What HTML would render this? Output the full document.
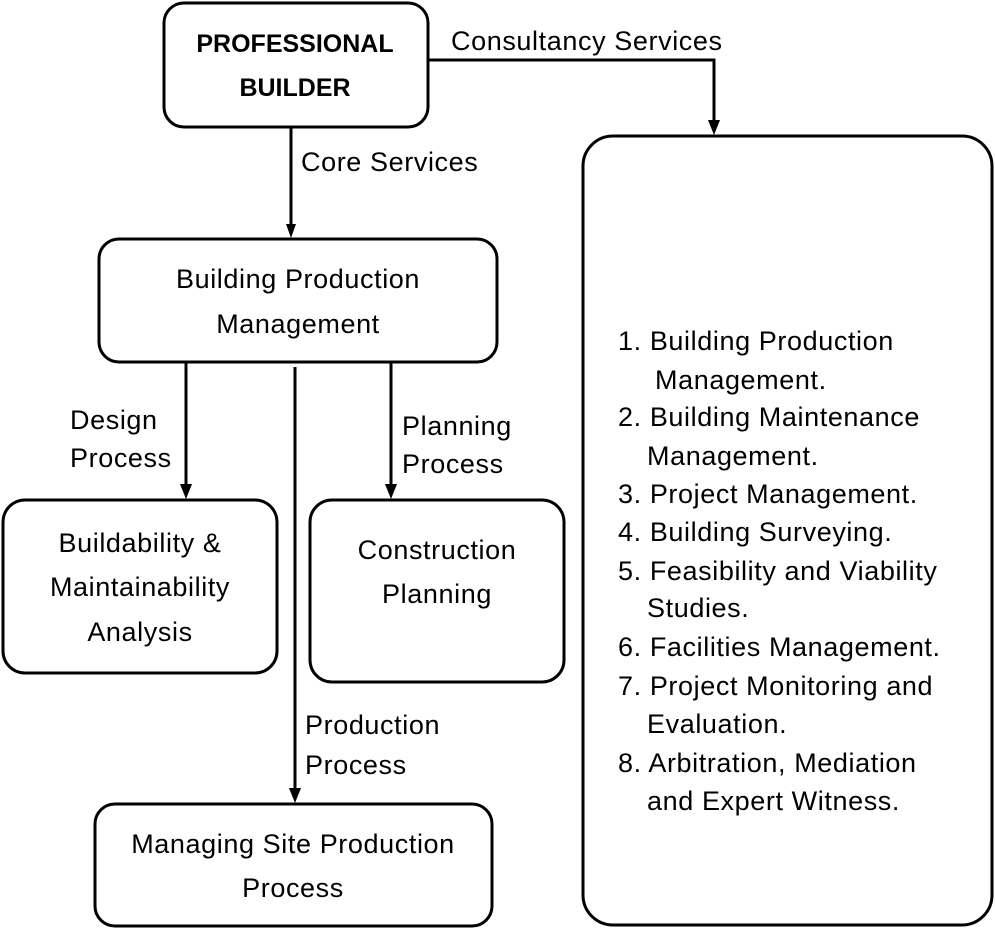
<!DOCTYPE html>
<html><head><meta charset="utf-8"><style>html,body{margin:0;padding:0;background:#fff}</style></head>
<body>
<svg width="995" height="930" viewBox="0 0 995 930" xmlns="http://www.w3.org/2000/svg" font-family="'Liberation Sans', sans-serif" font-size="27" letter-spacing="0.6" fill="#000">
<g fill="none" stroke="#000" stroke-width="3">
<rect x="164" y="3" width="264" height="124" rx="20"/>
<rect x="583" y="136" width="409" height="789" rx="30"/>
<rect x="99" y="239" width="398" height="123" rx="20"/>
<rect x="3" y="500" width="274" height="173" rx="22"/>
<rect x="310" y="500" width="254" height="182" rx="22"/>
<rect x="95" y="804" width="397" height="122" rx="20"/>
</g>
<g stroke="#000" stroke-width="3" fill="none">
<path d="M291 127 V228" /><path d="M286 224 L296 224 L291 238 Z" fill="#000" stroke="none"/>
<path d="M428 60 H714 V122"/><path d="M708 120 L720 120 L714 135 Z" fill="#000" stroke="none"/>
<path d="M186 362 V486"/><path d="M180 484 L192 484 L186 499 Z" fill="#000" stroke="none"/>
<path d="M391 362 V486"/><path d="M385 484 L397 484 L391 499 Z" fill="#000" stroke="none"/>
<path d="M295 367 V790"/><path d="M289 788 L301 788 L295 803 Z" fill="#000" stroke="none"/>
</g>
<g text-anchor="middle">
<text x="295" y="52" font-weight="bold" font-size="25" letter-spacing="0">PROFESSIONAL</text>
<text x="295" y="96" font-weight="bold" font-size="25" letter-spacing="0">BUILDER</text>
<text x="298" y="288">Building Production</text>
<text x="298" y="333">Management</text>
<text x="140" y="552">Buildability &amp;</text>
<text x="140" y="596">Maintainability</text>
<text x="140" y="641">Analysis</text>
<text x="437" y="559">Construction</text>
<text x="437" y="603">Planning</text>
<text x="293" y="853">Managing Site Production</text>
<text x="293" y="897">Process</text>
</g>
<text x="451" y="50">Consultancy Services</text>
<text x="301" y="171">Core Services</text>
<text x="70" y="429">Design</text>
<text x="70" y="467">Process</text>
<text x="402" y="435">Planning</text>
<text x="402" y="473">Process</text>
<text x="305" y="734">Production</text>
<text x="305" y="774">Process</text>
<g>
<text x="618" y="350">1. Building Production</text>
<text x="655" y="389">Management.</text>
<text x="618" y="426">2. Building Maintenance</text>
<text x="647" y="465">Management.</text>
<text x="618" y="503">3. Project Management.</text>
<text x="618" y="541">4. Building Surveying.</text>
<text x="618" y="580">5. Feasibility and Viability</text>
<text x="647" y="617">Studies.</text>
<text x="618" y="656">6. Facilities Management.</text>
<text x="618" y="695">7. Project Monitoring and</text>
<text x="647" y="733">Evaluation.</text>
<text x="618" y="772">8. Arbitration, Mediation</text>
<text x="647" y="810">and Expert Witness.</text>
</g>
</svg>
</body></html>
